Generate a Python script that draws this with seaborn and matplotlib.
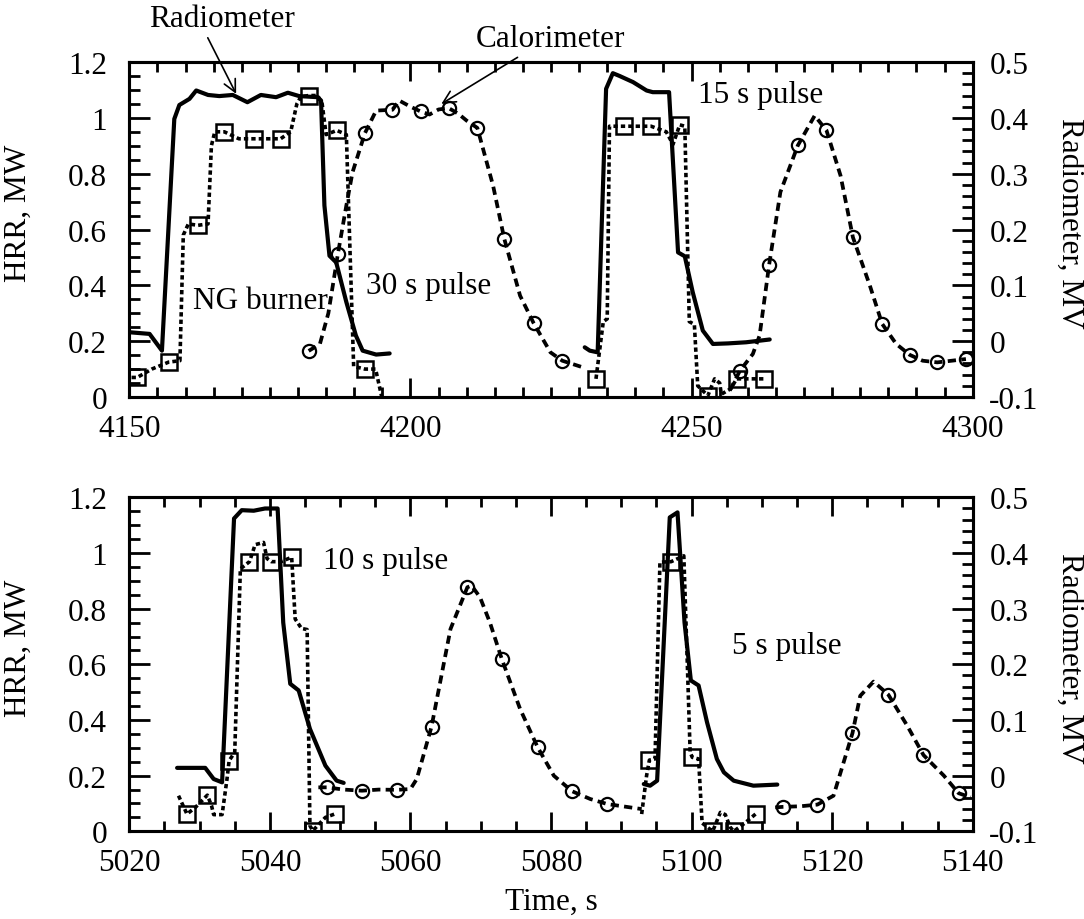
import numpy as np
import pandas as pd
import matplotlib
matplotlib.use("Agg")
import matplotlib.pyplot as plt
import seaborn as sns
from matplotlib.ticker import MultipleLocator, FuncFormatter

# ---------------- data (top panel: 30 s and 15 s pulses) ----------------
# Radiometer signal, MV (right axis)
top_rad_t1 = [4150.0, 4153.6, 4155.8, 4158.0, 4158.9, 4160.7, 4161.9, 4164.0, 4166.0, 4168.4,
              4171.0, 4173.4, 4176.1, 4178.2, 4180.2, 4183.5, 4184.1, 4184.7, 4185.6, 4186.8,
              4188.6, 4190.3, 4191.5, 4193.9, 4196.3]
top_rad_v1 = [0.016, 0.013, -0.017, 0.398, 0.423, 0.434, 0.449, 0.441, 0.439, 0.441,
              0.428, 0.441, 0.437, 0.445, 0.439, 0.437, 0.431, 0.243, 0.153, 0.141,
              0.070, 0.010, -0.017, -0.024, -0.022]
top_rad_t2 = [4231.0, 4231.9, 4233.3, 4234.8, 4236.0, 4237.2, 4239.6, 4242.0, 4243.1, 4246.0,
              4247.6, 4248.8, 4250.2, 4252.0, 4253.8, 4256.5, 4259.7, 4263.9]
top_rad_v2 = [-0.011, -0.017, -0.020, 0.452, 0.480, 0.475, 0.464, 0.449, 0.446, 0.446,
              0.159, 0.152, 0.088, 0.019, -0.005, -0.004, -0.002, 0.003]

# NG burner HRR, MW (squares)
top_ng_t1 = [4150.4, 4151.4, 4154.0, 4157.0, 4159.0, 4159.6, 4160.5, 4162.2, 4164.0, 4164.6,
             4165.2, 4166.9, 4169.5, 4172.1, 4174.5, 4176.9, 4178.7, 4179.8, 4180.5, 4181.9,
             4183.5, 4184.3, 4185.0, 4186.9, 4188.6, 4189.9, 4191.9, 4193.8, 4194.9]
top_ng_v1 = [0.07, 0.07, 0.10, 0.125, 0.13, 0.58, 0.62, 0.615, 0.62, 0.90,
             0.95, 0.95, 0.925, 0.925, 0.925, 0.925, 0.95, 1.05, 1.075, 1.08,
             1.08, 1.05, 0.94, 0.955, 0.94, 0.11, 0.10, 0.10, 0.0]
top_ng_m1 = [4151.4, 4157.0, 4162.2, 4166.9, 4172.1, 4176.9, 4181.9, 4186.9, 4191.9]
top_ng_t2 = [4233.0, 4234.3, 4235.0, 4235.4, 4238.0, 4240.4, 4242.8, 4245.5, 4246.7, 4247.9,
             4248.8, 4249.6, 4250.5, 4251.1, 4252.9, 4254.1, 4255.0, 4255.3, 4257.0, 4258.0,
             4260.5, 4262.9]
top_ng_v2 = [0.065, 0.27, 0.28, 0.97, 0.97, 0.97, 0.97, 0.95, 0.905, 0.975,
             0.97, 0.27, 0.26, 0.04, 0.005, 0.065, 0.05, 0.01, 0.03, 0.065,
             0.065, 0.065]
top_ng_m2 = [4233.0, 4238.0, 4242.8, 4247.9, 4252.9, 4258.0, 4262.9]

# Calorimeter HRR, MW (circles)
top_cal_t1 = [4181.9, 4183.9, 4185.4, 4187.1, 4188.6, 4189.7, 4191.9, 4193.9, 4196.8, 4198.0,
              4200.0, 4201.8, 4203.4, 4205.0, 4206.8, 4208.5, 4210.0, 4211.9, 4214.7, 4216.7,
              4219.5, 4221.9, 4224.9, 4227.0, 4230.7]
top_cal_v1 = [0.165, 0.19, 0.30, 0.513, 0.686, 0.805, 0.945, 1.026, 1.029, 1.062,
              1.04, 1.023, 1.012, 1.03, 1.035, 1.015, 0.99, 0.964, 0.757, 0.566,
              0.363, 0.265, 0.16, 0.13, 0.106]
top_cal_m1 = [4181.9, 4187.1, 4191.9, 4196.8, 4201.8, 4206.8, 4211.9, 4216.7, 4221.9, 4227.0]
top_cal_t2 = [4256.8, 4258.6, 4260.9, 4262.1, 4263.8, 4265.8, 4268.9, 4271.9, 4274.0, 4276.5,
              4278.7, 4281.7, 4283.9, 4286.4, 4288.8, 4291.1, 4293.7, 4296.3, 4298.8]
top_cal_v2 = [0.023, 0.094, 0.154, 0.22, 0.474, 0.734, 0.901, 1.008, 0.955, 0.793,
              0.572, 0.40, 0.262, 0.19, 0.151, 0.13, 0.124, 0.13, 0.136]
top_cal_m2 = [4258.6, 4263.8, 4268.9, 4274.0, 4278.7, 4283.9, 4288.8, 4293.7, 4298.8]

# ---------------- data (bottom panel: 10 s and 5 s pulses) ----------------
bot_rad_t1 = [5026.8, 5030.8, 5032.0, 5033.2, 5034.9, 5036.0, 5037.7, 5039.3, 5041.1, 5041.9,
              5042.9, 5044.1, 5045.7, 5047.9, 5049.5, 5050.5]
bot_rad_v1 = [0.014, 0.014, -0.006, -0.012, 0.462, 0.477, 0.476, 0.480, 0.480, 0.275,
              0.165, 0.153, 0.084, 0.018, -0.009, -0.013]
bot_rad_t2 = [5093.2, 5094.1, 5095.1, 5096.9, 5098.0, 5099.0, 5099.9, 5101.0, 5102.2, 5103.6,
              5104.6, 5106.0, 5108.8, 5112.2]
bot_rad_v2 = [-0.015, -0.018, -0.009, 0.464, 0.473, 0.275, 0.171, 0.162, 0.096, 0.030,
              0.006, -0.009, -0.018, -0.016]

bot_ng_t1 = [5027.0, 5028.2, 5029.4, 5031.1, 5031.7, 5032.0, 5033.2, 5033.9, 5034.2, 5035.0,
             5035.8, 5037.1, 5037.9, 5039.1, 5039.6, 5040.2, 5041.6, 5043.1, 5043.6, 5044.5,
             5045.3, 5045.7, 5046.1, 5047.9, 5049.2]
bot_ng_v1 = [0.128, 0.062, 0.086, 0.130, 0.092, 0.06, 0.06, 0.188, 0.254, 0.284,
             0.943, 0.969, 1.03, 1.038, 0.98, 0.969, 0.969, 0.985, 0.763, 0.729,
             0.725, 0.02, 0.002, 0.05, 0.062]
bot_ng_m1 = [5028.2, 5031.1, 5034.2, 5037.1, 5040.2, 5043.1, 5046.1, 5049.2]
bot_ng_t2 = [5092.9, 5093.6, 5094.0, 5094.8, 5095.5, 5097.1, 5098.9, 5099.4, 5099.8, 5100.1,
             5101.0, 5101.5, 5103.0, 5104.1, 5104.8, 5105.5, 5106.0, 5107.6, 5109.1]
bot_ng_v2 = [0.062, 0.2, 0.256, 0.26, 0.967, 0.969, 0.99, 0.6, 0.284, 0.266,
             0.26, 0.03, 0.0, 0.068, 0.06, 0.015, 0.0, 0.03, 0.062]
bot_ng_m2 = [5094.0, 5097.1, 5100.1, 5103.0, 5106.0, 5109.1]

bot_cal_t1 = [5046.9, 5048.1, 5050.5, 5053.1, 5055.5, 5058.1, 5060.0, 5060.9, 5063.0, 5065.7,
              5068.1, 5068.7, 5069.9, 5071.3, 5073.0, 5075.6, 5078.1, 5080.4, 5083.0, 5085.6,
              5088.0, 5092.9]
bot_cal_v1 = [0.158, 0.158, 0.15, 0.146, 0.15, 0.149, 0.152, 0.188, 0.376, 0.727,
              0.877, 0.883, 0.841, 0.751, 0.619, 0.44, 0.302, 0.2, 0.144, 0.116,
              0.098, 0.080]
bot_cal_m1 = [5048.1, 5053.1, 5058.1, 5063.0, 5068.1, 5073.0, 5078.1, 5083.0, 5088.0]
bot_cal_t2 = [5111.9, 5113.0, 5115.5, 5117.9, 5120.2, 5122.9, 5124.0, 5125.9, 5128.0, 5130.7,
              5133.0, 5135.9, 5138.0, 5139.7]
bot_cal_v2 = [0.086, 0.088, 0.09, 0.096, 0.128, 0.353, 0.487, 0.538, 0.491, 0.379,
              0.274, 0.2, 0.137, 0.122]
bot_cal_m2 = [5113.0, 5117.9, 5122.9, 5128.0, 5133.0, 5138.0]

# ---------------- style ----------------
sns.set_theme(style="white", rc={
    "axes.edgecolor": "black", "text.color": "black", "axes.labelcolor": "black",
    "xtick.color": "black", "ytick.color": "black", "axes.grid": False,
})
plt.rcParams['font.family'] = ['Liberation Serif', 'DejaVu Serif']
plt.rcParams['axes.unicode_minus'] = False

FS = 22.5
STYLES = {
    "rad": dict(color="black", lw=3.0, linestyle="-"),
    "ng": dict(color="black", lw=2.6, linestyle=(0, (1.2, 0.85)), marker="s", ms=11,
               markerfacecolor="none", markeredgecolor="black", markeredgewidth=1.8),
    "cal": dict(color="black", lw=2.7, linestyle=(0, (2.2, 1.4)), marker="o", ms=9.5,
                markerfacecolor="none", markeredgecolor="black", markeredgewidth=1.6),
}


def draw(ax, t, v, kind, marks=None):
    df = pd.DataFrame({"t": t, "v": v})
    kw = dict(STYLES[kind])
    if marks is not None:
        kw["markevery"] = [bool(np.any(np.isclose(x, marks))) for x in t]
    sns.lineplot(data=df, x="t", y="v", ax=ax, estimator=None, sort=False,
                 legend=False, **kw)


fmt = FuncFormatter(lambda v, p: f"{round(v, 6):g}")


def setup(ax, ax2, xlim, xmajor, xminor):
    ax.set_xlim(*xlim)
    ax.set_ylim(0, 1.2)
    ax2.set_ylim(-0.1, 0.5)
    ax.xaxis.set_major_locator(MultipleLocator(xmajor))
    ax.xaxis.set_minor_locator(MultipleLocator(xminor))
    ax.yaxis.set_major_locator(MultipleLocator(0.2))
    ax.yaxis.set_minor_locator(MultipleLocator(0.05))
    ax2.yaxis.set_major_locator(MultipleLocator(0.1))
    ax2.yaxis.set_minor_locator(MultipleLocator(0.02))
    ax.xaxis.set_major_formatter(fmt)
    ax.yaxis.set_major_formatter(fmt)
    ax2.yaxis.set_major_formatter(fmt)
    ax.tick_params(axis="x", which="both", direction="in", top=True, bottom=True,
                   labelsize=FS, pad=12, width=2)
    ax.tick_params(axis="x", which="major", length=14)
    ax.tick_params(axis="x", which="minor", length=7)
    ax.tick_params(axis="y", which="both", direction="in", left=True, right=False,
                   labelsize=FS, pad=16, width=2)
    ax.tick_params(axis="y", which="major", length=15)
    ax.tick_params(axis="y", which="minor", length=8)
    ax2.tick_params(axis="y", which="both", direction="in", right=True, left=False,
                    labelsize=FS, pad=12, width=2)
    ax2.tick_params(axis="y", which="major", length=15)
    ax2.tick_params(axis="y", which="minor", length=8)
    for a in (ax, ax2):
        for s in a.spines.values():
            s.set_linewidth(2.2)
            s.set_color("black")
    ax.set_ylabel("HRR, MW", fontsize=FS)
    ax.yaxis.set_label_coords(-0.114, 0.55)
    ax2.set_ylabel("Radiometer, MV", fontsize=FS, rotation=270, va="bottom")
    ax2.yaxis.set_label_coords(1.098, 0.52)
    ax.set_xlabel("")


fig = plt.figure(figsize=(10.84, 9.2), dpi=100)
fig.patch.set_facecolor("white")

ax_top = fig.add_axes([0.1193, 0.5674, 0.7780, 0.3641])
ax_top2 = ax_top.twinx()
ax_bot = fig.add_axes([0.1193, 0.0953, 0.7780, 0.3630])
ax_bot2 = ax_bot.twinx()

# top panel
draw(ax_top, top_ng_t1, top_ng_v1, "ng", top_ng_m1)
draw(ax_top, top_ng_t2, top_ng_v2, "ng", top_ng_m2)
draw(ax_top, top_cal_t1, top_cal_v1, "cal", top_cal_m1)
draw(ax_top, top_cal_t2, top_cal_v2, "cal", top_cal_m2)
draw(ax_top2, top_rad_t1, top_rad_v1, "rad")
draw(ax_top2, top_rad_t2, top_rad_v2, "rad")
setup(ax_top, ax_top2, (4150, 4300), 50, 5)

# bottom panel
draw(ax_bot, bot_ng_t1, bot_ng_v1, "ng", bot_ng_m1)
draw(ax_bot, bot_ng_t2, bot_ng_v2, "ng", bot_ng_m2)
draw(ax_bot, bot_cal_t1, bot_cal_v1, "cal", bot_cal_m1)
draw(ax_bot, bot_cal_t2, bot_cal_v2, "cal", bot_cal_m2)
draw(ax_bot2, bot_rad_t1, bot_rad_v1, "rad")
draw(ax_bot2, bot_rad_t2, bot_rad_v2, "rad")
setup(ax_bot, ax_bot2, (5020, 5140), 20, 5)
ax_bot.set_xlabel("Time, s", fontsize=FS)
ax_bot.xaxis.set_label_coords(0.5, -0.165)

for a in (ax_top2, ax_bot2):
    a.set_xlabel("")

# annotations
arrow = dict(arrowstyle="->", color="black", lw=1.2, mutation_scale=22, shrinkA=1, shrinkB=0)
ax_top.annotate("Radiometer", xy=(4169.0, 1.086), xytext=(4166.4, 1.355),
                ha="center", va="center", fontsize=FS, annotation_clip=False,
                arrowprops=dict(arrow, relpos=(0.39, 0.0)))
ax_top.annotate("Calorimeter", xy=(4205.5, 1.05), xytext=(4225.0, 1.283),
                ha="center", va="center", fontsize=FS, annotation_clip=False,
                arrowprops=dict(arrow, relpos=(0.32, 0.0)))
ax_top.text(4173.4, 0.345, "NG burner", ha="center", va="center", fontsize=FS)
ax_top.text(4203.2, 0.399, "30 s pulse", ha="center", va="center", fontsize=FS)
ax_top.text(4262.2, 1.082, "15 s pulse", ha="center", va="center", fontsize=FS)
ax_bot.text(5056.5, 0.972, "10 s pulse", ha="center", va="center", fontsize=FS)
ax_bot.text(5113.6, 0.667, "5 s pulse", ha="center", va="center", fontsize=FS)

fig.savefig("out.png", dpi=100, facecolor="white")
